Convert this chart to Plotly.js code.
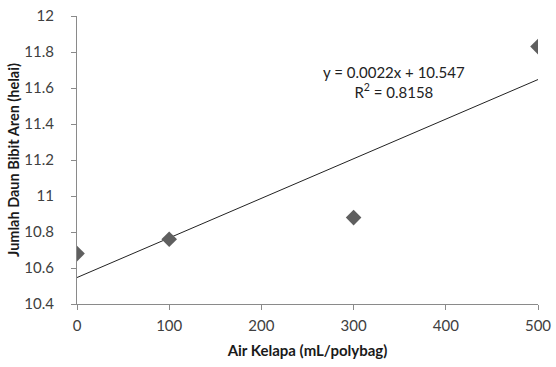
<!DOCTYPE html>
<html><head><meta charset="utf-8">
<script src="https://cdn.plot.ly/plotly-3.0.1.min.js"></script>
<style>html,body{margin:0;padding:0;background:#fff}#c{width:556px;height:367px}</style>
</head><body><div id="c"></div>
<script>
const airKelapa = [0, 100, 300, 500];
const jumlahDaun = [10.68, 10.76, 10.88, 11.83];
const slope = 0.0022;
const intercept = 10.547;
const r2 = 0.8158;
const yTicks = [10.4, 10.6, 10.8, 11, 11.2, 11.4, 11.6, 11.8, 12];
const xTicks = [0, 100, 200, 300, 400, 500];

const xMin = Math.min(...airKelapa), xMax = Math.max(...airKelapa);
const trendX = [xMin, xMax];
const trendY = trendX.map(x => slope * x + intercept);
const font = 'Lato, "Open Sans", sans-serif';

Plotly.newPlot('c', [
  {x: trendX, y: trendY, mode: 'lines', line: {color: '#222', width: 1}, hoverinfo: 'skip'},
  {x: airKelapa, y: jumlahDaun, mode: 'markers',
   marker: {symbol: 'diamond', size: 12, color: '#5f5f5f'}}
], {
  width: 556, height: 367, showlegend: false,
  margin: {l: 77, r: 18, t: 16, b: 63},
  paper_bgcolor: '#fff', plot_bgcolor: '#fff',
  font: {family: font, color: '#404040', size: 15},
  xaxis: {range: [0, 500], tickvals: xTicks, ticktext: xTicks.map(String),
    showgrid: false, zeroline: false, showline: true, linecolor: '#8a8a8a', linewidth: 1,
    ticks: 'outside', ticklen: 5, tickcolor: '#8a8a8a', ticklabelstandoff: 3,
    title: {text: '<b>Air Kelapa (mL/polybag)</b>', font: {size: 15, color: '#1a1a1a'}, standoff: 12}},
  yaxis: {range: [10.4, 12], tickvals: yTicks, ticktext: yTicks.map(String),
    showgrid: false, zeroline: false, showline: true, linecolor: '#8a8a8a', linewidth: 1,
    ticks: 'outside', ticklen: 5, tickcolor: '#8a8a8a', ticklabelstandoff: 14,
    title: {text: '<b>Jumlah Daun Bibit Aren (helai)</b>', font: {size: 14.5, color: '#1a1a1a'}, standoff: 1}},
  annotations: [{
    xref: 'paper', yref: 'paper', x: 0.687, y: 0.77, xanchor: 'center', yanchor: 'middle',
    text: 'y = ' + slope.toFixed(4) + 'x + ' + intercept + '<br>R<sup>2</sup> = ' + r2,
    showarrow: false, align: 'center', font: {size: 15, color: '#222', family: font}
  }]
}, {displayModeBar: false, staticPlot: true});
</script></body></html>
